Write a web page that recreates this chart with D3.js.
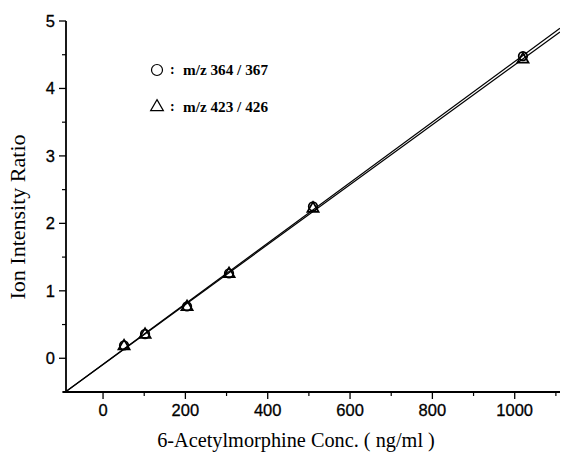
<!DOCTYPE html>
<html>
<head>
<meta charset="utf-8">
<script src="https://cdn.jsdelivr.net/npm/d3@7"></script>
<style>
  html, body { margin: 0; padding: 0; background: #fff; }
  svg { display: block; }
</style>
</head>
<body>
<svg id="chart" width="564" height="453"></svg>
<script>
// Calibration data: 6-acetylmorphine concentration vs ion intensity ratio
const concentrations = [51, 102, 204, 306, 510, 1020];
const ratio364 = [0.19, 0.36, 0.77, 1.26, 2.25, 4.48];   // m/z 364 / 367 (circles)
const ratio423 = [0.18, 0.35, 0.76, 1.25, 2.22, 4.43];   // m/z 423 / 426 (triangles)
const xTicks = [0, 200, 400, 600, 800, 1000];
const yTicks = [0, 1, 2, 3, 4, 5];
const legendLabels = ["m/z 364 / 367", "m/z 423 / 426"];

const svg = d3.select("#chart");
const x = d3.scaleLinear().domain([-90, 1110]).range([66, 560]);
const y = d3.scaleLinear().domain([-0.5, 5]).range([392, 21]);

const sans = "'Liberation Sans', Arial, sans-serif";
const serif = "'Liberation Serif', 'Times New Roman', serif";

// Least-squares fit for each series
function fit(xs, ys) {
  const mx = d3.mean(xs), my = d3.mean(ys);
  let num = 0, den = 0;
  xs.forEach((v, i) => { num += (v - mx) * (ys[i] - my); den += (v - mx) ** 2; });
  const b = num / den;
  return { slope: b, intercept: my - b * mx };
}

svg.append("clipPath").attr("id", "plot-clip")
  .append("rect").attr("x", x.range()[0]).attr("y", y.range()[1] - 5)
  .attr("width", x.range()[1] - x.range()[0]).attr("height", y.range()[0] - y.range()[1] + 5);

const lines = svg.append("g").attr("clip-path", "url(#plot-clip)");
[ratio364, ratio423].forEach(ys => {
  const f = fit(concentrations, ys);
  const xs = x.domain();
  lines.append("line")
    .attr("x1", x(xs[0])).attr("y1", y(f.intercept + f.slope * xs[0]))
    .attr("x2", x(xs[1])).attr("y2", y(f.intercept + f.slope * xs[1]))
    .attr("stroke", "#000").attr("stroke-width", 1.2);
});

// Axes
const xMinor = d3.range(-100, 1101, 100).filter(v => v >= x.domain()[0] && v % 200 !== 0);
const yMinor = d3.range(-0.5, 5, 1);

const axes = svg.append("g").attr("stroke", "#000");
axes.append("line").attr("x1", x.range()[0] - 3).attr("x2", x.range()[1])
  .attr("y1", y(-0.5)).attr("y2", y(-0.5)).attr("stroke-width", 1.8);
axes.append("line").attr("x1", x.range()[0]).attr("x2", x.range()[0])
  .attr("y1", y.range()[0]).attr("y2", y.range()[1]).attr("stroke-width", 1.8);

xTicks.forEach(v => axes.append("line").attr("x1", x(v)).attr("x2", x(v))
  .attr("y1", y(-0.5)).attr("y2", y(-0.5) + 7).attr("stroke-width", 1.3));
xMinor.forEach(v => axes.append("line").attr("x1", x(v)).attr("x2", x(v))
  .attr("y1", y(-0.5)).attr("y2", y(-0.5) + 4).attr("stroke-width", 1.2));
yTicks.forEach(v => axes.append("line").attr("y1", y(v)).attr("y2", y(v))
  .attr("x1", x.range()[0]).attr("x2", x.range()[0] - 7).attr("stroke-width", 1.3));
yMinor.forEach(v => axes.append("line").attr("y1", y(v)).attr("y2", y(v))
  .attr("x1", x.range()[0]).attr("x2", x.range()[0] - 4).attr("stroke-width", 1.2));

svg.append("g").selectAll("text").data(xTicks).join("text")
  .attr("x", d => x(d)).attr("y", y(-0.5) + 24)
  .attr("text-anchor", "middle").attr("font-family", sans).attr("font-size", 16.5)
  .attr("stroke", "#000").attr("stroke-width", 0.3)
  .text(d => d);
svg.append("g").selectAll("text").data(yTicks).join("text")
  .attr("x", x.range()[0] - 11).attr("y", d => y(d) + 6)
  .attr("text-anchor", "end").attr("font-family", sans).attr("font-size", 16.5)
  .attr("stroke", "#000").attr("stroke-width", 0.3)
  .text(d => d);

// Axis titles
svg.append("text").attr("x", 296).attr("y", 447).attr("text-anchor", "middle")
  .attr("font-family", serif).attr("font-size", 20.3)
  .text("6-Acetylmorphine Conc. ( ng/ml )");
svg.append("text").attr("transform", "translate(25,217) rotate(-90)")
  .attr("text-anchor", "middle").attr("font-family", serif).attr("font-size", 22)
  .text("Ion Intensity Ratio");

// Markers
const tri = d3.symbol().type(d3.symbolTriangle).size(55);
const marks = svg.append("g").attr("fill", "none").attr("stroke", "#000").attr("stroke-width", 1.7);
marks.selectAll("circle").data(concentrations).join("circle")
  .attr("cx", d => x(d)).attr("cy", (d, i) => y(ratio364[i])).attr("r", 4.3);
marks.selectAll("path").data(concentrations).join("path")
  .attr("d", tri).attr("transform", (d, i) => `translate(${x(d)},${y(ratio423[i])})`);

// Legend
const legend = svg.append("g");
legend.append("circle").attr("cx", 157).attr("cy", 70).attr("r", 5.5)
  .attr("fill", "none").attr("stroke", "#000").attr("stroke-width", 1.2);
legend.append("path").attr("d", d3.symbol().type(d3.symbolTriangle).size(70))
  .attr("transform", "translate(157,107)").attr("fill", "none")
  .attr("stroke", "#000").attr("stroke-width", 1.2);
[70, 107].forEach((cy, i) => {
  legend.append("text").attr("x", 170).attr("y", cy + 4)
    .attr("font-family", serif).attr("font-size", 14).attr("font-weight", "bold").text(":");
  legend.append("text").attr("x", 183).attr("y", cy + 5)
    .attr("font-family", serif).attr("font-size", 14.5).attr("font-weight", "bold")
    .attr("textLength", 85).attr("lengthAdjust", "spacingAndGlyphs").text(legendLabels[i]);
});
</script>
</body>
</html>
